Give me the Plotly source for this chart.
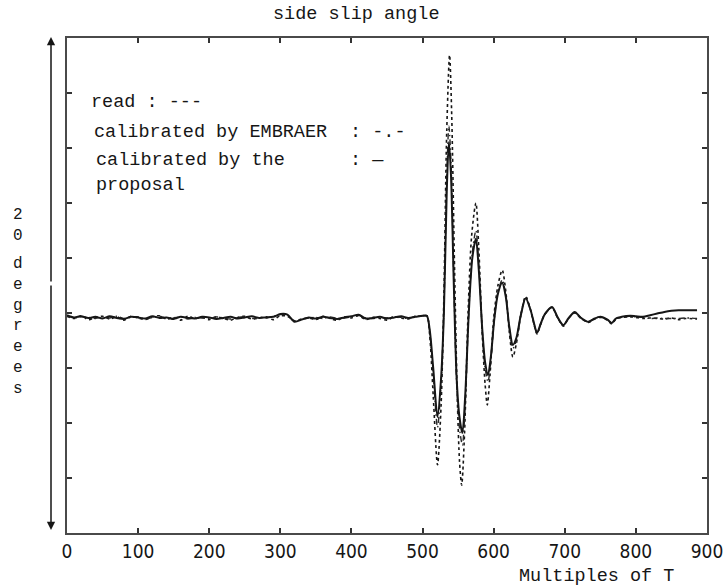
import plotly.graph_objects as go

# ---- data (multiples of T vs. side slip angle, one tick step per unit) ----
X_QUIET = list(range(0, 501, 10))

PROPOSAL_QUIET = [
    -0.04, -0.08, -0.06, -0.09, -0.07, -0.10, -0.06, -0.09, -0.11, -0.07,
    -0.08, -0.10, -0.06, -0.09, -0.08, -0.11, -0.07, -0.09, -0.10, -0.07,
    -0.08, -0.11, -0.09, -0.07, -0.10, -0.08, -0.06, -0.09, -0.08, -0.07,
    -0.02, -0.03, -0.16, -0.12, -0.08, -0.10, -0.07, -0.09, -0.11, -0.08,
    -0.06, -0.03, -0.10, -0.09, -0.07, -0.10, -0.08, -0.06, -0.09, -0.07,
    -0.05,
]
EMBRAER_QUIET = [
    -0.05, -0.09, -0.07, -0.08, -0.10, -0.07, -0.09, -0.06, -0.10, -0.08,
    -0.07, -0.11, -0.08, -0.06, -0.10, -0.09, -0.07, -0.11, -0.08, -0.09,
    -0.10, -0.07, -0.09, -0.11, -0.08, -0.07, -0.10, -0.08, -0.09, -0.06,
    -0.03, -0.04, -0.15, -0.11, -0.09, -0.08, -0.10, -0.07, -0.10, -0.09,
    -0.07, -0.04, -0.09, -0.10, -0.08, -0.09, -0.07, -0.08, -0.10, -0.06,
    -0.06,
]
READ_QUIET = [
    -0.06, -0.10, -0.05, -0.12, -0.08, -0.06, -0.11, -0.07, -0.13, -0.06,
    -0.09, -0.12, -0.07, -0.05, -0.11, -0.08, -0.13, -0.06, -0.10, -0.08,
    -0.12, -0.07, -0.10, -0.13, -0.08, -0.06, -0.11, -0.09, -0.07, -0.12,
    -0.05, -0.06, -0.14, -0.11, -0.09, -0.12, -0.06, -0.10, -0.13, -0.07,
    -0.09, -0.05, -0.12, -0.08, -0.10, -0.13, -0.07, -0.09, -0.11, -0.06,
    -0.06,
]

X_OSC = [
    506, 510, 515, 521, 526, 530, 534, 537, 540, 544, 548, 552, 556, 560,
    565, 570, 575, 579, 584, 588, 592, 596, 601, 606, 612, 617, 622, 627,
    632, 638, 645, 652, 657, 661, 666, 672, 682, 690, 698, 705, 714, 722,
    733, 742, 750, 760, 766, 772, 780, 792, 800, 810, 820, 830, 840, 850,
    860, 870, 886,
]
PROPOSAL_OSC = [
    -0.05, -0.30, -1.00, -1.89, -1.20, 0.00, 2.20, 3.11, 2.50, 0.50, -1.20,
    -1.90, -2.18, -1.50, 0.00, 1.00, 1.35, 0.80, -0.30, -0.90, -1.13, -0.80,
    -0.10, 0.35, 0.55, 0.30, -0.25, -0.58, -0.45, -0.05, 0.27, 0.05, -0.20,
    -0.36, -0.20, -0.02, 0.11, -0.08, -0.22, -0.10, 0.02, -0.08, -0.16,
    -0.10, -0.07, -0.12, -0.18, -0.10, -0.07, -0.05, -0.06, -0.07, -0.04,
    -0.01, 0.02, 0.04, 0.05, 0.05, 0.05,
]
EMBRAER_OSC = [
    -0.05, -0.33, -1.10, -2.08, -1.30, 0.05, 2.45, 3.40, 2.75, 0.55, -1.30,
    -2.10, -2.40, -1.65, 0.00, 1.10, 1.50, 0.90, -0.33, -1.00, -1.25, -0.88,
    -0.10, 0.38, 0.60, 0.33, -0.28, -0.64, -0.50, -0.05, 0.29, 0.05, -0.21,
    -0.38, -0.21, -0.03, 0.10, -0.08, -0.23, -0.10, 0.01, -0.08, -0.16,
    -0.10, -0.07, -0.12, -0.18, -0.10, -0.07, -0.06, -0.07, -0.08, -0.10,
    -0.09, -0.10, -0.10, -0.10, -0.09, -0.10,
]

X_OSC_READ = [
    506, 510, 515, 521, 526, 530, 534, 538, 541, 545, 549, 552, 555, 559,
    564, 569, 575, 579, 584, 588, 591, 595, 600, 606, 612, 617, 622, 627,
    632, 638, 645, 652, 657, 661, 666, 672, 682, 690, 698, 705, 714, 722,
    733, 742, 750, 760, 766, 772, 780, 792, 800, 810, 820, 830, 840, 850,
    860, 870, 886,
]
READ_OSC = [
    -0.05, -0.40, -1.50, -2.76, -1.70, 0.30, 3.30, 4.69, 3.60, 0.80, -1.60,
    -2.70, -3.13, -2.20, 0.00, 1.40, 2.00, 1.20, -0.40, -1.30, -1.67, -1.10,
    -0.10, 0.50, 0.78, 0.40, -0.35, -0.80, -0.55, -0.05, 0.30, 0.05, -0.22,
    -0.38, -0.20, -0.02, 0.10, -0.09, -0.24, -0.10, 0.00, -0.09, -0.17,
    -0.11, -0.08, -0.13, -0.20, -0.11, -0.08, -0.07, -0.08, -0.10, -0.09,
    -0.10, -0.11, -0.09, -0.12, -0.10, -0.11,
]

X_TICKS = [0, 100, 200, 300, 400, 500, 600, 700, 800, 900]
Y_TICKS = [-4, -3, -2, -1, 0, 1, 2, 3, 4, 5]

MONO = "Liberation Mono, Courier New, monospace"
NARROW = "Liberation Sans Narrow, DejaVu Sans Condensed, Arial Narrow, sans-serif"
INK = "#161616"
TXT = 18.5

fig = go.Figure()

fig.add_trace(go.Scatter(
    x=X_QUIET + X_OSC_READ, y=READ_QUIET + READ_OSC, mode="lines",
    line=dict(color=INK, width=1.6, dash="3px,3px", shape="spline",
              smoothing=0.8),
    name="read",
))
fig.add_trace(go.Scatter(
    x=X_QUIET + X_OSC, y=EMBRAER_QUIET + EMBRAER_OSC, mode="lines",
    line=dict(color="#2a2a2a", width=1.4, dash="6px,3px,1.5px,3px",
              shape="spline", smoothing=0.8),
    name="calibrated by EMBRAER",
))
fig.add_trace(go.Scatter(
    x=X_QUIET + X_OSC, y=PROPOSAL_QUIET + PROPOSAL_OSC, mode="lines",
    line=dict(color=INK, width=2, shape="spline", smoothing=0.8),
    name="calibrated by the proposal",
))

L, R, T, B = 67, 16, 38, 55
W, H = 723, 588
PW, PH = W - L - R, H - T - B


def px(x):
    return (x - L) / PW


def py(y):
    return (H - B - y) / PH


annotations = [
    # title
    dict(text="side slip angle", x=px(356), y=py(15), font=dict(size=TXT)),
    # x-axis title
    dict(text="Multiples of T", x=px(596), y=py(576), font=dict(size=TXT)),
    # vertical axis caption, one letter per line
    dict(text="2<br>0", x=px(18), y=py(225), font=dict(size=16)),
    dict(text="d<br>e<br>g<br>r<br>e<br>e<br>s", x=px(18), y=py(326),
         font=dict(size=16)),
    # legend block
    dict(text="read : ---", x=px(89), y=py(103), xanchor="left",
         font=dict(size=TXT)),
    dict(text="calibrated by EMBRAER", x=px(92), y=py(132), xanchor="left",
         font=dict(size=TXT)),
    dict(text=": -.-", x=px(348), y=py(132), xanchor="left",
         font=dict(size=TXT)),
    dict(text="calibrated by the", x=px(94), y=py(160), xanchor="left",
         font=dict(size=TXT)),
    dict(text=": \u2014", x=px(348), y=py(160), xanchor="left",
         font=dict(size=TXT)),
    dict(text="proposal", x=px(94), y=py(185), xanchor="left",
         font=dict(size=TXT)),
]
for a in annotations:
    a.setdefault("xanchor", "center")
    a.update(xref="paper", yref="paper", showarrow=False, yanchor="middle")
    a["font"].update(family=MONO, color=INK)

# double-headed arrow spanning the vertical scale
for tip, off in ((py(37), 246), (py(530), -246)):
    annotations.append(dict(
        x=px(51), y=tip, xref="paper", yref="paper", text="",
        showarrow=True, arrowhead=2, arrowsize=1.1, arrowwidth=1.5,
        arrowcolor=INK, ax=0, ay=off,
    ))

axis_common = dict(
    showline=True, linecolor="#4a4a4a", linewidth=1.5, mirror="ticks",
    ticks="inside", ticklen=5, tickwidth=1.5, tickcolor="#333",
    showgrid=False, zeroline=False, automargin=False,
)

fig.update_layout(
    width=W, height=H,
    margin=dict(l=L, r=R, t=T, b=B),
    paper_bgcolor="white", plot_bgcolor="white",
    showlegend=False,
    annotations=annotations,
    xaxis=dict(range=[0, 900.001], tickvals=X_TICKS,
               ticktext=[str(v) for v in X_TICKS],
               ticklabeloverflow="allow",
               tickfont=dict(family=NARROW, size=19, color=INK),
               **axis_common),
    yaxis=dict(range=[-4, 5], tickvals=Y_TICKS, showticklabels=False,
               **axis_common),
)

fig.write_html("out.html")
